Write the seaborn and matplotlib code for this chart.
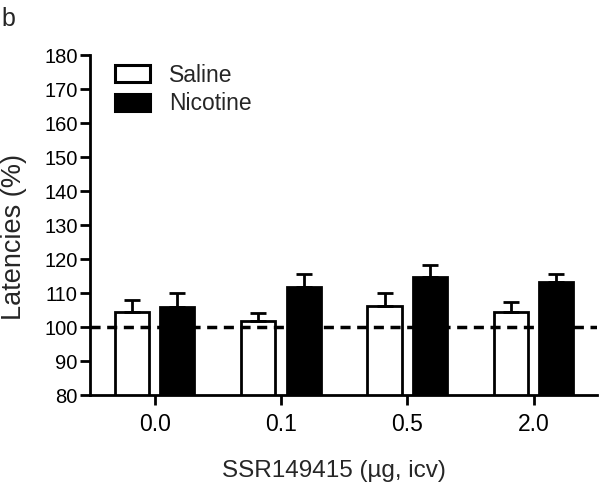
import numpy as np
import pandas as pd
import matplotlib
matplotlib.use("Agg")
import matplotlib.pyplot as plt
import seaborn as sns

# --- data ---
doses = ["0.0", "0.1", "0.5", "2.0"]
groups = ["Saline", "Nicotine"]
saline_mean = [104.5, 101.8, 106.3, 104.5]
saline_sem = [3.5, 2.5, 3.8, 2.9]
nicotine_mean = [106.0, 111.9, 114.8, 113.3]
nicotine_sem = [4.0, 3.7, 3.4, 2.5]

df = pd.DataFrame({
    "dose": doses * 2,
    "group": ["Saline"] * 4 + ["Nicotine"] * 4,
    "latency": saline_mean + nicotine_mean,
    "sem": saline_sem + nicotine_sem,
})

sns.set_theme(style="ticks")
plt.rcParams["font.family"] = ["Liberation Sans", "DejaVu Sans"]

fig = plt.figure(figsize=(6.01, 4.88), dpi=100)
ax = fig.add_axes([0.15, 0.19, 0.843, 0.697])

sns.barplot(data=df, x="dose", y="latency", hue="group", order=doses,
            hue_order=groups, palette={"Saline": "white", "Nicotine": "black"},
            edgecolor="black", linewidth=2, width=0.72, gap=0.25,
            errorbar=None, ax=ax)

# upward-only error bars, drawn at each bar's centre
for cont, g in zip(ax.containers, groups):
    sub = df[df["group"] == g].set_index("dose").loc[doses]
    xs = [p.get_x() + p.get_width() / 2 for p in cont.patches]
    ax.errorbar(xs, sub["latency"], yerr=[np.zeros(len(xs)), sub["sem"]],
                fmt="none", ecolor="black", elinewidth=2, capsize=5.5,
                capthick=2, zorder=1)

ax.axhline(100, color="black", lw=2.5, ls=(0, (2.9, 1.9)), zorder=3)

ax.set_ylim(80, 180)
ax.set_yticks(np.arange(80, 181, 10))
ax.set_xlim(-0.51, 3.5)
sns.despine(ax=ax)
for s in ["left", "bottom"]:
    ax.spines[s].set_linewidth(2)
    ax.spines[s].set_color("black")
ax.tick_params(axis="both", width=2, length=7, colors="black", direction="out")
ax.tick_params(axis="y", labelsize=14.5, pad=2)
ax.tick_params(axis="x", labelsize=16.5, pad=6)
ax.set_xlabel("SSR149415 (\u00b5g, icv)", fontsize=17.5)
ax.set_ylabel("Latencies (%)", fontsize=19.5)
ax.xaxis.set_label_coords(0.482, -0.19)
ax.yaxis.set_label_coords(-0.125, 0.465)

leg = ax.legend(loc="upper left", frameon=False, fontsize=16.5,
                bbox_to_anchor=(0.05, 0.975), borderaxespad=0, borderpad=0,
                handlelength=1.5, handleheight=0.74, handletextpad=0.85,
                labelspacing=0.25)
for h in leg.legend_handles:
    h.set_linewidth(2.2)

fig.text(0.003, 0.986, "b", fontsize=18, va="top", ha="left")

fig.savefig("out.png", dpi=100)
